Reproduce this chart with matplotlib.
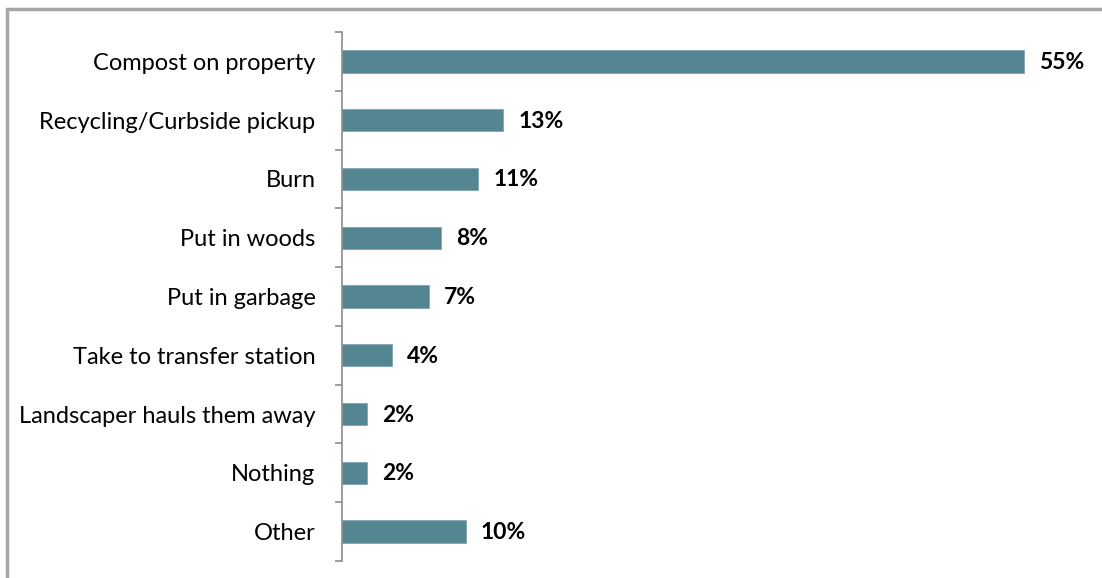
import matplotlib
matplotlib.use("Agg")
import matplotlib.pyplot as plt
from matplotlib.patches import Rectangle
from matplotlib.ticker import FixedLocator

categories = ["Compost on property", "Recycling/Curbside pickup", "Burn", "Put in woods",
              "Put in garbage", "Take to transfer station", "Landscaper hauls them away",
              "Nothing", "Other"]
values = [55, 13, 11, 8, 7, 4, 2, 2, 10]
labels = ["55%", "13%", "11%", "8%", "7%", "4%", "2%", "2%", "10%"]

plt.rcParams['font.family'] = ['Lato', 'DejaVu Sans']

W, H = 1102, 578
fig = plt.figure(figsize=(W / 100, H / 100), dpi=100)

# outer frame
fig.add_artist(Rectangle((7 / W, -0.05), 1.2, 1 - 9 / H + 0.05, transform=fig.transFigure,
                         fill=False, edgecolor="#a6a6a6", linewidth=2.5))

left, right = 342 / W, (342 + 60 * 12.4) / W
bottom, top = 1 - 561 / H, 1 - 32 / H
ax = fig.add_axes([left, bottom, right - left, top - bottom])

n = len(categories)
y = list(range(n))
ax.barh(y, values, height=0.38, color="#548691", edgecolor="#7fa6b0", linewidth=0.6)
ax.set_xlim(0, 60)
ax.set_ylim(n - 0.5, -0.5)

for yi, v, lab in zip(y, values, labels):
    ax.annotate(lab, (v, yi), xytext=(15, -1), textcoords="offset pixels",
                ha="left", va="center", fontsize=16.5, fontweight="bold", color="black")

ax.set_yticks(y)
ax.set_yticklabels(categories, fontsize=17)
ax.tick_params(axis="y", which="major", length=0, pad=19)
ax.yaxis.set_minor_locator(FixedLocator([i - 0.5 for i in range(n + 1)]))
ax.tick_params(axis="y", which="minor", length=5, width=1.2, color="#8c8c8c")
ax.set_xticks([])
for s in ["top", "right", "bottom"]:
    ax.spines[s].set_visible(False)
ax.spines["left"].set_color("#8c8c8c")
ax.spines["left"].set_linewidth(1.2)

fig.savefig("out.png", dpi=100)
